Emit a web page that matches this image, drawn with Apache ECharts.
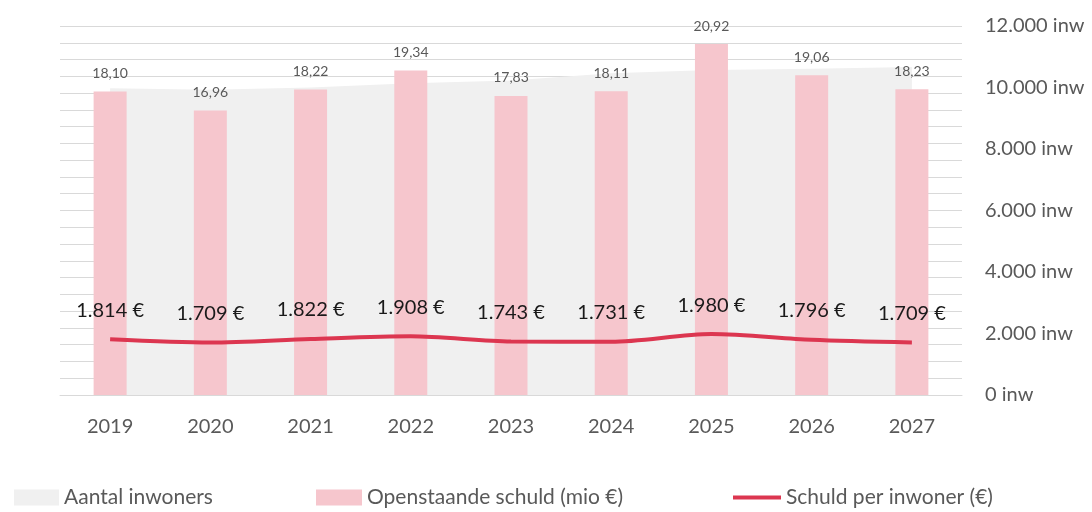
<!DOCTYPE html>
<html><head><meta charset="utf-8">
<script src="https://cdn.jsdelivr.net/npm/echarts@6/dist/echarts.min.js"></script>
<style>html,body{margin:0;padding:0;background:#fff}#c{width:1092px;height:512px}</style>
</head><body><div id="c"></div>
<script>
const categories = ['2019','2020','2021','2022','2023','2024','2025','2026','2027'];
const inwoners = [9978, 9924, 10000, 10136, 10229, 10462, 10566, 10612, 10667];
const schuld = [18.10, 16.96, 18.22, 19.34, 17.83, 18.11, 20.92, 19.06, 18.23];
const perInwoner = [1814, 1709, 1822, 1908, 1743, 1731, 1980, 1796, 1709];
const rightTicks = [0, 2000, 4000, 6000, 8000, 10000, 12000];

const FONT = 'Lato, "Open Sans", sans-serif';
function dotThousands(v){ return String(Math.round(v)).replace(/\B(?=(\d{3})+(?!\d))/g,'.'); }
const legendText = {fontFamily:FONT, fontSize:21, color:'#595959'};

const chart = echarts.init(document.getElementById('c'), null, {renderer:'canvas'});
chart.setOption({
  animation:false,
  backgroundColor:'#ffffff',
  textStyle:{fontFamily:FONT},
  grid:{left:60, right:130, top:26, bottom:117},
  legend:[
    {data:[{name:'Aantal inwoners', icon:'rect'}], left:14, top:487, padding:0, itemWidth:45, itemHeight:16, textStyle:legendText},
    {data:[{name:'Openstaande schuld (mio €)', icon:'rect'}], left:316, top:487, padding:0, itemWidth:46, itemHeight:16, textStyle:legendText},
    {data:[{name:'Schuld per inwoner (€)', icon:'rect'}], left:733, top:487, padding:0, itemWidth:48, itemHeight:4, textStyle:legendText}
  ],
  xAxis:{type:'category', data:categories, boundaryGap:true,
    axisLine:{lineStyle:{color:'#d9d9d9', width:1}}, axisTick:{show:false},
    axisLabel:{color:'#595959', fontSize:20, margin:22, fontFamily:FONT}},
  yAxis:[
    {type:'value', min:0, max:22, interval:1, position:'left',
     axisLabel:{show:false}, axisLine:{show:false}, axisTick:{show:false},
     splitLine:{show:true, lineStyle:{color:'#d9d9d9', width:1}}},
    {type:'value', min:rightTicks[0], max:rightTicks[rightTicks.length-1], interval:2000, position:'right',
     axisLine:{show:false}, axisTick:{show:false}, splitLine:{show:false},
     axisLabel:{color:'#595959', fontSize:20, margin:23, fontFamily:FONT,
       formatter:function(v){ return dotThousands(v)+' inw'; }}}
  ],
  series:[
    {name:'Aantal inwoners', type:'line', yAxisIndex:1, data:inwoners, symbol:'none',
     lineStyle:{width:0, color:'#f0f0f0'}, itemStyle:{color:'#f0f0f0'},
     areaStyle:{color:'#f0f0f0', opacity:1}, z:1},
    {name:'Openstaande schuld (mio €)', type:'bar', yAxisIndex:0, data:schuld, barWidth:33,
     itemStyle:{color:'#f6c6cd'}, z:2,
     label:{show:true, position:'top', distance:11, color:'#595959', fontSize:14, fontFamily:FONT,
       formatter:function(p){ return p.value.toFixed(2).replace('.',','); }}},
    {name:'Schuld per inwoner (€)', type:'line', yAxisIndex:1, data:perInwoner, smooth:0.3,
     symbol:'circle', symbolSize:0.01, showSymbol:true,
     lineStyle:{width:4, color:'#dc3650'}, itemStyle:{color:'#dc3650'}, z:3,
     label:{show:true, position:'top', distance:19, color:'#1a1a1a', fontSize:20, fontFamily:FONT,
       formatter:function(p){ return dotThousands(p.value)+' €'; }}}
  ]
});
</script></body></html>
